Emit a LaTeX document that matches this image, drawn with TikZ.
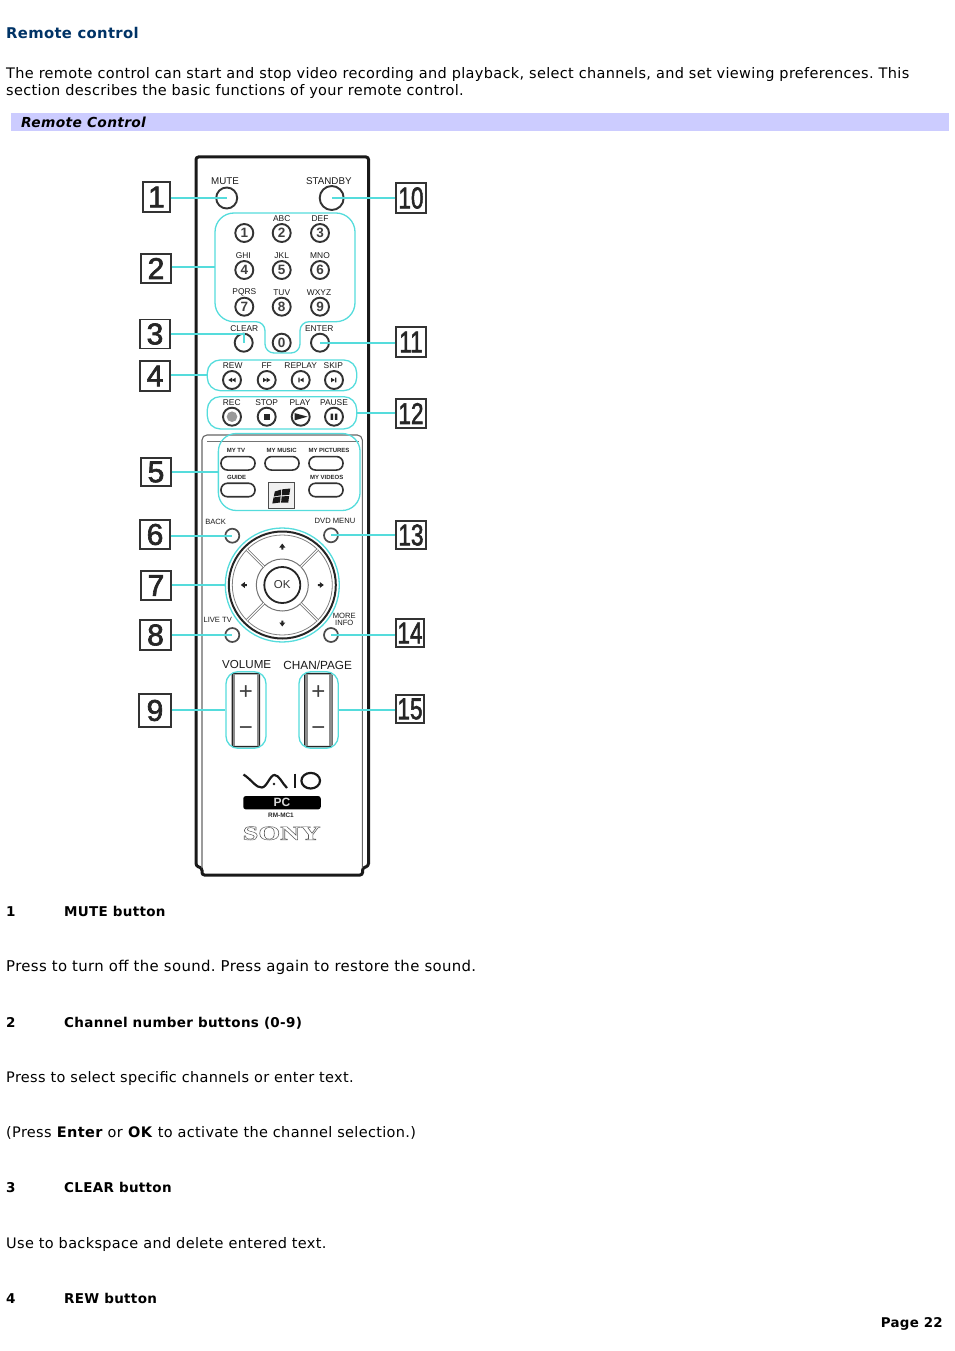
\documentclass[tikz,border=0pt]{standalone}
\usepackage{fontspec}
\setmainfont{DejaVu Sans}[LetterSpace=2.3]
\newfontfamily\keyfont{Liberation Sans}
\newfontfamily\calloutfont{Liberation Sans}[FakeBold=2.2]
\newfontfamily\logofont{Liberation Serif}
\frenchspacing
\definecolor{leadcyan}{RGB}{85,220,220}
\definecolor{barblue}{RGB}{204,204,255}
\definecolor{headblue}{RGB}{0,51,102}
\tikzset{
	callout/.style={draw=black!80,line width=1.2pt,inner sep=0pt,text=black!85,font=\calloutfont\fontsize{30}{30}\selectfont},
	lead/.style={color=leadcyan,line width=1.8pt},
	grp/.style={draw=leadcyan,line width=1.3pt,inner sep=0pt},
	btn/.style={circle,draw=black!80,line width=1.9pt,inner sep=0pt,minimum size=18pt,font=\keyfont\bfseries\fontsize{13.5}{13.5}\selectfont,text=black!75},
	smallbtn/.style={circle,draw=black!70,line width=1.7pt,inner sep=0pt,minimum size=14pt},
	keylbl/.style={inner sep=0pt,text=black!90,font=\keyfont\fontsize{8.4}{8.4}\selectfont},
	pilllbl/.style={inner sep=0pt,text=black!85,font=\keyfont\bfseries\fontsize{6}{6}\selectfont},
	pill/.style={draw=black!80,line width=1.6pt,rounded corners=6.5pt,minimum width=34pt,minimum height=13.5pt,inner sep=0pt},
	rocker/.style={draw=black!85,line width=1.5pt,rounded corners=2pt,minimum width=27pt,minimum height=73pt,inner sep=0pt},
	sign/.style={inner sep=0pt,text=black!75,font=\keyfont\fontsize{24}{24}\selectfont},
	bodytxt/.style={anchor=base west,inner sep=0pt,font=\fontsize{14.5}{17}\selectfont},
	boldtxt/.style={bodytxt,font=\bfseries\fontsize{13.5}{16}\selectfont}
}
\begin{document}
\begin{tikzpicture}[x=1pt,y=-1pt]
		\useasboundingbox (0,0) rectangle (954,1351);
		%page text
		\node[anchor=base west,inner sep=0pt,text=headblue,font=\bfseries\fontsize{14.8}{18}\selectfont] (title) at (6,38.5) {Remote control};
		\node[bodytxt] (introa) at (6,79) {The remote control can start and stop video recording and playback, select channels, and set viewing preferences. This};
		\node[bodytxt] (introb) at (6,96) {section describes the basic functions of your remote control.};
		\fill[barblue] (11,113) rectangle (949,131);
		\node[boldtxt,font=\bfseries\itshape\fontsize{13.8}{16}\selectfont] (bartitle) at (21,128) {Remote Control};
		\foreach \n/\y/\t in {a/916/1,b/1027/2,c/1192/3,d/1303/4}{
			\node[boldtxt] (num\n) at (6,\y) {\t};
		}
		\foreach \n/\y/\t in {a/916/MUTE button,b/1027/Channel number buttons (0-9),c/1192/CLEAR button,d/1303/REW button}{
			\node[boldtxt] (head\n) at (64,\y) {\t};
		}
		\node[bodytxt,font=\fontsize{14.9}{17}\selectfont] (parta) at (6,971) {Press to turn off the sound. Press again to restore the sound.};
		\node[bodytxt] (partb) at (6,1082) {Press to select specific channels or enter text.};
		\node[bodytxt] (partc) at (6,1137) {(Press \textbf{Enter} or \textbf{OK} to activate the channel selection.)};
		\node[bodytxt] (partd) at (6,1248) {Use to backspace and delete entered text.};
		\node[boldtxt,font=\bfseries\fontsize{13.4}{16}\selectfont,anchor=base east] (pageno) at (943,1327) {Page 22};
		%remote body
		\draw[line width=3pt,color=black!90,rounded corners=2.5pt] (196,157)--(368.5,157)--(368.5,866)--(362.5,868)--(362.5,875)--(202,875)--(202,868)--(196,866)--cycle;
		\draw[line width=1.1pt,color=black!60,rounded corners=5pt] (202,868)--(202,435)--(362.3,435)--(362.3,868);
		\draw[line width=0.8pt,color=black!55] (207,441)--(359,441);
		%round buttons
		\node[btn,minimum size=21pt] (mute) at (226.7,198) {};
		\node[btn,minimum size=24pt] (standby) at (331.7,198) {};
		\foreach \n/\x/\y in {1/244.3/233,2/281.7/233,3/320/233,4/244.3/270,5/281.7/270,6/320/270,7/244.3/306.7,8/281.7/306.7,9/320/306.7,0/281.7/342.7}{
			\node[btn] (digit\n) at (\x,\y) {\n};
		}
		\node[btn] (clear) at (243.7,342.7) {};
		\node[btn] (enter) at (320,342.7) {};
		\foreach \n/\x in {rew/232,ff/266.7,replay/300.7,skip/334}{
			\node[btn] (\n) at (\x,380) {};
		}
		\foreach \n/\x in {rec/232,stop/266.7,play/300.7,pause/334}{
			\node[btn] (\n) at (\x,416.7) {};
		}
		\foreach \n/\x/\y in {back/232.3/535.7,dvd/331/535.3,live/232.3/635,more/331/635}{
			\node[smallbtn] (\n) at (\x,\y) {};
		}
		%key glyphs
		\foreach \b/\d in {rew/-1,ff/1}{
			\begin{scope}[shift={(\b)},xscale=\d]
				\fill[black!85] (-3.7,-2.3)--(0,0)--(-3.7,2.3)--cycle (0,-2.3)--(3.7,0)--(0,2.3)--cycle;
			\end{scope}
		}
		\foreach \b/\d in {replay/-1,skip/1}{
			\begin{scope}[shift={(\b)},xscale=\d]
				\fill[black!85] (-3,-2.3)--(0.8,0)--(-3,2.3)--cycle (1,-2.3) rectangle (2.4,2.3);
			\end{scope}
		}
		\fill[black!40] (rec) circle (5.3);
		\fill[black!85] ([xshift=-2.9pt,yshift=-2.9pt]stop.center) rectangle ([xshift=2.9pt,yshift=2.9pt]stop.center);
		\begin{scope}[shift={(play)}]
			\fill[black!85] (-6,-3.6)--(7,0)--(-6,3.6)--cycle;
		\end{scope}
		\begin{scope}[shift={(pause)}]
			\fill[black!85] (-3.3,-3.2) rectangle (-0.9,3.2) (0.9,-3.2) rectangle (3.3,3.2);
		\end{scope}
		%key labels
		\foreach \n/\x/\y/\t in {lmute/225/180.7/MUTE,lstandby/328.8/180.7/STANDBY}{
			\node[keylbl,font=\keyfont\fontsize{9.8}{9.8}\selectfont] (\n) at (\x,\y) {\t};
		}
		\foreach \n/\x/\y/\t in {labc/281.7/219/ABC,ldef/320/219/DEF,lghi/243.3/256/GHI,ljkl/281.7/256/JKL,lmno/320/256/MNO,lpqrs/244.3/292.7/PQRS,ltuv/281.7/292.7/TUV,lwxyz/319/292.7/WXYZ,lclear/244.3/328.3/CLEAR,lenter/319.3/328.3/ENTER,lrew/232.7/365.7/REW,lff/266.7/365.7/FF,lreplay/300.7/365.7/REPLAY,lskip/333.3/365.7/SKIP,lrec/231.7/402.3/REC,lstop/266.7/402.3/STOP,lplay/300/402.3/PLAY,lpause/334/402.3/PAUSE}{
			\node[keylbl] (\n) at (\x,\y) {\t};
		}
		\foreach \n/\x/\y/\t in {lback/215.7/521.7/BACK,ldvd/335/520.7/DVD MENU,llive/217.7/620/LIVE TV,lmore/344.3/615.7/MORE,linfo/344.3/623.3/INFO}{
			\node[keylbl,font=\keyfont\fontsize{7.6}{7.6}\selectfont] (\n) at (\x,\y) {\t};
		}
		%media keys
		\foreach \n/\x/\y in {mytv/238/463.3,mymusic/282/463.3,mypict/326/463.3,guide/238/490,myvideo/326/490}{
			\node[pill] (\n) at (\x,\y) {};
		}
		\foreach \n/\x/\y/\t in {lmytv/236/450.7/MY TV,lmymusic/281.7/450.7/MY MUSIC,lmypict/329/450.7/MY PICTURES,lguide/236.7/477.7/GUIDE,lmyvideo/326.7/477.7/MY VIDEOS}{
			\node[pilllbl] (\n) at (\x,\y) {\t};
		}
		\node[draw=black!70,line width=1pt,fill=black!6,minimum size=26pt,inner sep=0pt] (winkey) at (281.7,495.5) {};
		\begin{scope}[shift={(282.3,496)}]
			\fill[black!90] (-7.5,-4.5)--(-1,-6.5)--(-1.5,-0.7)--(-8.5,0.5)--cycle (0,-6.7)--(8,-7.5)--(7,-1.2)--(-0.5,-0.7)--cycle (-8.8,1.5)--(-1.7,0.4)--(-2.3,6.5)--(-10,7.5)--cycle (-0.6,0.4)--(6.8,0)--(6,6.5)--(-1.2,6.7)--cycle;
		\end{scope}
		%dial
		\node[circle,draw=black!85,line width=2pt,minimum size=107pt,inner sep=0pt] (dial) at (282.3,585) {};
		\node[circle,draw=black!50,line width=0.8pt,minimum size=100pt,inner sep=0pt] (dialin) at (dial) {};
		\node[circle,draw=black!55,line width=1pt,minimum size=52pt,inner sep=0pt] (dialmid) at (dial) {};
		\node[circle,draw=black!85,line width=1.8pt,minimum size=36pt,inner sep=0pt,text=black!80,font=\keyfont\fontsize{11.5}{11.5}\selectfont] (ok) at (dial) {OK};
		\foreach \a in {45,135,225,315}{
			\begin{scope}[shift={(dial)}]
				\draw[color=black!60,line width=0.7pt,double=white,double distance=1.2pt] (\a:26)--(\a:50);
			\end{scope}
		}
		\foreach \a in {0,90,180,270}{
			\begin{scope}[shift={(dial)},rotate=\a]
				\fill[black!85] (37.5,-3)--(41.5,0)--(37.5,3)--cycle (35.5,-1) rectangle (37.5,1);
			\end{scope}
		}
		%rockers
		\foreach \n/\x in {vol/245.8,chan/318.3}{
			\node[rocker] (\n) at (\x,710) {};
			\fill[black!45] ([xshift=1pt,yshift=-1pt]\n.north west) rectangle ([xshift=3.5pt,yshift=1pt]\n.south west);
			\fill[black!45] ([xshift=-1pt,yshift=-1pt]\n.north east) rectangle ([xshift=-3.5pt,yshift=1pt]\n.south east);
			\node[sign] (\n plus) at (\x,693) {+};
			\node[sign] (\n minus) at (\x,731) {−};
		}
		\node[keylbl,font=\keyfont\fontsize{11.6}{11.6}\selectfont] (lvol) at (246.7,665) {VOLUME};
		\node[keylbl,font=\keyfont\fontsize{11.8}{11.8}\selectfont] (lchan) at (317.7,665) {CHAN/PAGE};
		%logos
		\draw[line width=2.2pt,color=black!90] (243.5,774.5) .. controls (252,780) and (256,788) .. (262,787.5) .. controls (267,787) and (270,775) .. (274.5,775) .. controls (279,775) and (282,783) .. (287,788);
		\fill[black!90] (274,784) circle (1.3);
		\draw[line width=2.2pt,color=black!90] (295,773.5)--(295,788);
		\draw[line width=2.2pt,color=black!90] (310.7,780.7) ellipse [x radius=9.3,y radius=7.8];
		\node[fill=black,rounded corners=2.5pt,minimum width=77.5pt,minimum height=13.3pt,inner sep=0pt,text=black!15,font=\keyfont\bfseries\fontsize{12}{12}\selectfont] (pcbar) at (282,802.7) {PC};
		\node[pilllbl,font=\keyfont\bfseries\fontsize{6.4}{6.4}\selectfont] (model) at (281,815.7) {RM-MC1};
		\node[inner sep=0pt,font=\logofont\bfseries\fontsize{20}{20}\selectfont] (sony) at (281.7,833.3) {\special{pdf:code 1 Tr 0.45 w 0.35 G}\scalebox{1.4}[1]{SONY}\special{pdf:code 0 Tr}};
		%groups
		\draw[color=leadcyan,line width=1.3pt,rounded corners=19pt] (215,213)--(355,213)--(355,321.7)[rounded corners=9pt]--(300,321.7)--(300,353)--(265,353)--(265,321.7)[rounded corners=19pt]--(215,321.7)--cycle;
		\coordinate (numpad) at (215,266.7);
		\node[grp,rounded corners=13pt,minimum width=149.4pt,minimum height=30.7pt] (rowa) at (282,375.3) {};
		\node[grp,rounded corners=13pt,minimum width=149.4pt,minimum height=32.3pt] (rowb) at (282,412.8) {};
		\node[grp,rounded corners=18pt,minimum width=141.7pt,minimum height=77pt] (mediagrp) at (289.2,472) {};
		\node[grp,circle,minimum size=114pt] (ringa) at (dial) {};
		\node[grp,rounded corners=12pt,minimum width=40pt,minimum height=76.6pt] (volgrp) at (246,710) {};
		\node[grp,rounded corners=12pt,minimum width=39.3pt,minimum height=76.6pt] (changrp) at (318.6,710) {};
		%callouts
		\foreach \n/\x/\y/\w/\h in {1/156.5/197/27/30,2/156/268.5/30/29,3/155/334/30/29,4/155/376/30/30,5/156/472/30/28,6/155/534.5/30/29,7/156/585.5/30/29,8/155.5/635/31/30,9/155/710.5/32/33,10/411/198/30/30,11/411/342/30/30,12/411/413.5/30/29,13/411/535/30/28,14/410/633/28/28,15/410/709/28/28}{
			\node[callout,minimum width=\w pt,minimum height=\h pt] (box\n) at (\x,\y) {\ifnum\n>9 \scalebox{0.75}[1]{\n}\else\n\fi};
		}
		%leaders
		\foreach \a/\b in {box1/mute,box6/back,box8/live}{
			\draw[lead] (\a.east |- \b)--(\b.center);
		}
		\foreach \a/\b in {box10/standby,box11/enter,box13/dvd,box14/more}{
			\draw[lead] (\a.west |- \b)--(\b.center);
		}
		\draw[lead] (box3.east) -| (clear.center);
		\draw[lead] (box2.east |- numpad)--(numpad);
		\draw[lead] (box4.east |- rowa)--(rowa.west);
		\draw[lead] (box5.east |- mediagrp)--(mediagrp.west);
		\draw[lead] (box7.east |- ringa)--(ringa.west);
		\draw[lead] (box9.east |- volgrp)--(volgrp.west);
		\draw[lead] (box12.west |- rowb)--(rowb.east);
		\draw[lead] (box15.west |- changrp)--(changrp.east);
\end{tikzpicture}
\end{document}
